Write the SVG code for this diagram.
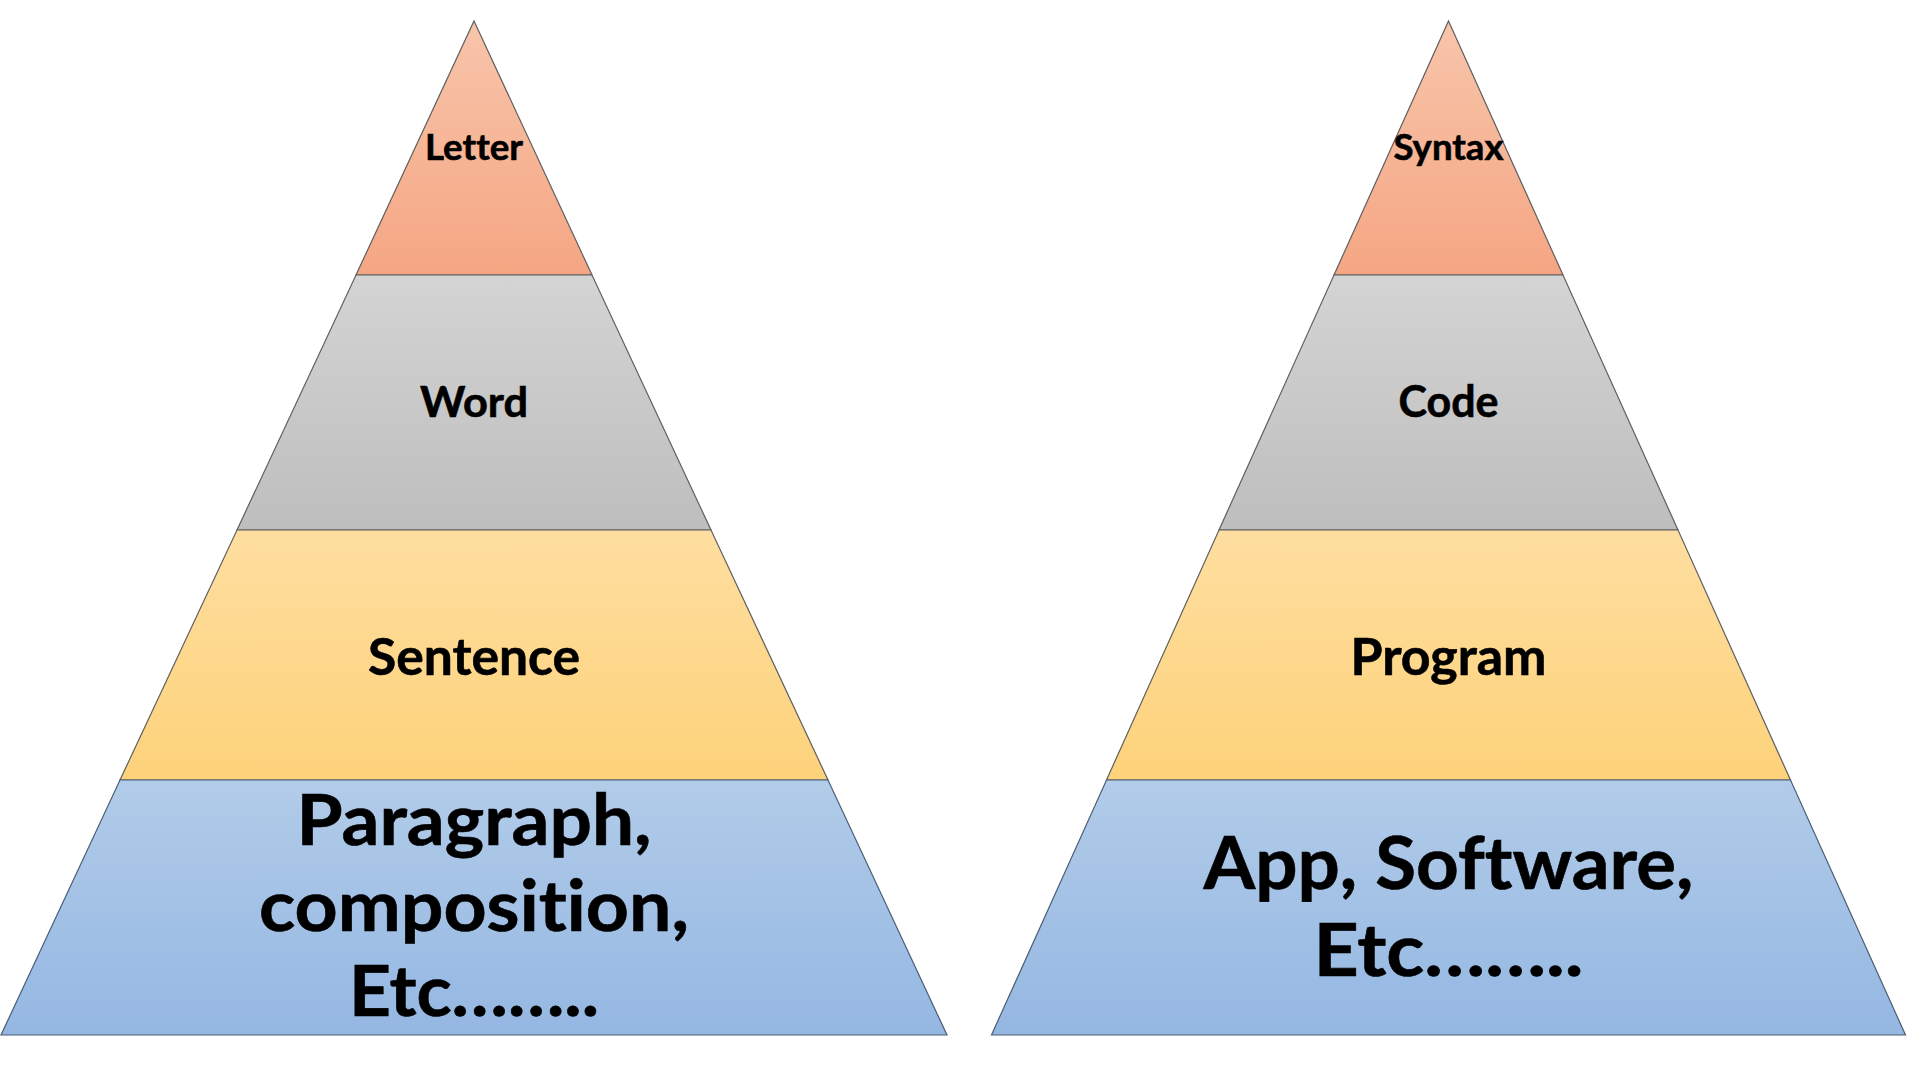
<svg xmlns="http://www.w3.org/2000/svg" width="1920" height="1080" viewBox="0 0 1920 1080">
  <defs>
    <linearGradient id="gOrange" x1="0" y1="0" x2="0" y2="1">
      <stop offset="0" stop-color="#F8C5AB"/>
      <stop offset="1" stop-color="#F5A683"/>
    </linearGradient>
    <linearGradient id="gGray" x1="0" y1="0" x2="0" y2="1">
      <stop offset="0" stop-color="#D4D4D4"/>
      <stop offset="1" stop-color="#BEBEBE"/>
    </linearGradient>
    <linearGradient id="gYellow" x1="0" y1="0" x2="0" y2="1">
      <stop offset="0" stop-color="#FEDEA0"/>
      <stop offset="1" stop-color="#FDD27A"/>
    </linearGradient>
    <linearGradient id="gBlue" x1="0" y1="0" x2="0" y2="1">
      <stop offset="0" stop-color="#B2CCE9"/>
      <stop offset="1" stop-color="#94B7E2"/>
    </linearGradient>
    <style>
      .tier { stroke: #5f5f5f; stroke-width: 1.2; stroke-linejoin: miter; }
      .top { fill: url(#gOrange); }
      .mid { fill: url(#gGray); }
      .low { fill: url(#gYellow); }
      .base { fill: url(#gBlue); stroke: #4a5d74; }
      .lbl { font-family: Lato, "Open Sans", "Liberation Sans", sans-serif; font-weight: 700; fill: #000; text-anchor: middle; font-variant-ligatures: none; font-feature-settings: "liga" 0, "clig" 0; stroke: #000; stroke-width: 0.6; }
    </style>
  </defs>

  <rect width="1920" height="1080" fill="#FFFFFF"/>

  <!-- Language pyramid -->
  <g id="language-pyramid">
    <g id="letter">
      <polygon class="tier top" points="474,21 592,275 356,275"/>
      <text class="lbl" x="474" y="160" font-size="37" textLength="98" lengthAdjust="spacingAndGlyphs">Letter</text>
    </g>
    <g id="word">
      <polygon class="tier mid" points="356,275 592,275 711,530 237,530"/>
      <text class="lbl" x="474" y="417" font-size="42" textLength="108" lengthAdjust="spacingAndGlyphs">Word</text>
    </g>
    <g id="sentence">
      <polygon class="tier low" points="237,530 711,530 828,780 120,780"/>
      <text class="lbl" x="474" y="675" font-size="51" textLength="212" lengthAdjust="spacingAndGlyphs">Sentence</text>
    </g>
    <g id="paragraph">
      <polygon class="tier base" points="120,780 828,780 947,1035 1,1035"/>
      <text class="lbl" x="474" y="845" font-size="70" textLength="355" lengthAdjust="spacingAndGlyphs">Paragraph,</text>
      <text class="lbl" x="474" y="931" font-size="70" textLength="430" lengthAdjust="spacingAndGlyphs">composition,</text>
      <text class="lbl" x="474" y="1016" font-size="70" textLength="250" lengthAdjust="spacingAndGlyphs">Etc……..</text>
    </g>
  </g>

  <!-- Programming pyramid -->
  <g id="programming-pyramid">
    <g id="syntax">
      <polygon class="tier top" points="1448.5,21 1563,275 1334,275"/>
      <text class="lbl" x="1448.5" y="160" font-size="37" textLength="110" lengthAdjust="spacingAndGlyphs">Syntax</text>
    </g>
    <g id="code">
      <polygon class="tier mid" points="1334,275 1563,275 1678,530 1219,530"/>
      <text class="lbl" x="1448.5" y="417" font-size="43" textLength="100" lengthAdjust="spacingAndGlyphs">Code</text>
    </g>
    <g id="program">
      <polygon class="tier low" points="1219,530 1678,530 1790.5,780 1106.5,780"/>
      <text class="lbl" x="1448.5" y="675" font-size="51" textLength="196" lengthAdjust="spacingAndGlyphs">Program</text>
    </g>
    <g id="app">
      <polygon class="tier base" points="1106.5,780 1790.5,780 1905.5,1035 991.5,1035"/>
      <text class="lbl" x="1448.5" y="889" font-size="72" textLength="490" lengthAdjust="spacingAndGlyphs">App, Software,</text>
      <text class="lbl" x="1448.5" y="976" font-size="72" textLength="270" lengthAdjust="spacingAndGlyphs">Etc……..</text>
    </g>
  </g>
</svg>
